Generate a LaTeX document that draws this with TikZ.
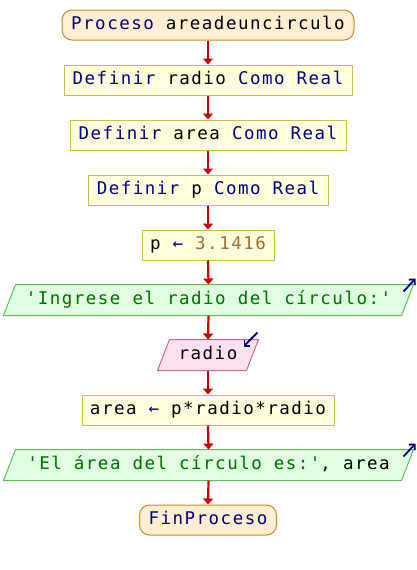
\documentclass[tikz,border=0pt]{standalone}
\usepackage{fontspec}
\usetikzlibrary{arrows.meta}
\newfontfamily\psfont[LetterSpace=8.5]{DejaVu Sans Mono}

\definecolor{startfill}{HTML}{FFEFD2}
\definecolor{startline}{HTML}{C88A30}
\definecolor{procfill}{HTML}{FFFFDD}
\definecolor{procline}{HTML}{C8C04A}
\definecolor{outfill}{HTML}{E0FFE0}
\definecolor{outline}{HTML}{5CBF5C}
\definecolor{infill}{HTML}{FFE0EE}
\definecolor{inline}{HTML}{CC6690}
\definecolor{kw}{HTML}{000080}
\definecolor{strc}{HTML}{007000}
\definecolor{numc}{HTML}{A06E40}
\definecolor{flowred}{HTML}{CC0000}

\newcommand{\kwd}[1]{\textcolor{kw}{#1}}
\newcommand{\strg}[1]{\textcolor{strc}{#1}}
\newcommand{\numb}[1]{\textcolor{numc}{#1}}

\pgfdeclarelayer{background}
\pgfsetlayers{background,main}

\tikzset{
  base/.style={font=\psfont\fontsize{17.5}{20}\selectfont, inner sep=0pt,
    minimum height=30pt, text height=13pt, text depth=4pt, line width=1pt},
  startstop/.style={base, draw=startline, fill=startfill, rounded corners=10pt},
  procbox/.style={base, draw=procline, fill=procfill},
  iotext/.style={base},
  flow/.style={draw=flowred, line width=2.2pt,
    -{Triangle[width=10pt,length=6pt]}},
  ioarrow/.style={draw=kw, line width=1.8pt,
    -{Straight Barb[length=4pt,width=8pt]}},
}

% parallelogram drawn behind a text node: #1 node, #2 fill, #3 border
\newcommand{\ioshape}[3]{%
  \begin{pgfonlayer}{background}
    \draw[line width=1pt, draw=#3, fill=#2]
      ([xshift=6pt]#1.north west) -- ([xshift=6pt]#1.north east)
      -- ([xshift=-6pt]#1.south east) -- ([xshift=-6pt]#1.south west) -- cycle;
  \end{pgfonlayer}}

\begin{document}
\begin{tikzpicture}[x=1pt, y=-1pt]
  \useasboundingbox (0,0) rectangle (416,570);

  \node[startstop, minimum width=292pt] (s) at (208,25)
    {\kwd{Proceso} areadeuncirculo};
  \node[procbox, minimum width=288pt] (d1) at (208,80)
    {\kwd{Definir} radio \kwd{Como Real}};
  \node[procbox, minimum width=276pt] (d2) at (208,135)
    {\kwd{Definir} area \kwd{Como Real}};
  \node[procbox, minimum width=240pt] (d3) at (208,190)
    {\kwd{Definir} p \kwd{Como Real}};
  \node[procbox, minimum width=132pt] (a1) at (208,245)
    {p \kwd{←} \numb{3.1416}};
  \node[iotext, minimum width=397pt] (o1) at (208.5,300)
    {\strg{'Ingrese el radio del círculo:'}};
  \node[iotext, minimum width=88pt] (i1) at (208,355) {radio};
  \node[procbox, minimum width=252pt] (a2) at (208,410)
    {area \kwd{←} p*radio*radio};
  \node[iotext, minimum width=397pt] (o2) at (208.5,465)
    {\strg{'El área del círculo es:'}, area};
  \node[startstop, minimum width=137pt] (e) at (208,520)
    {\kwd{FinProceso}};

  \ioshape{o1}{outfill}{outline}
  \ioshape{i1}{infill}{inline}
  \ioshape{o2}{outfill}{outline}

  % output / input markers
  \draw[ioarrow] ([shift={(-4,7)}]o1.north east) -- ++(12,-13);
  \draw[ioarrow] ([shift={(-4,7)}]o2.north east) -- ++(12,-13);
  \draw[ioarrow] ([shift={(5,-7)}]i1.north east) -- ++(-14,14);

  % flow
  \foreach \a/\b in {s/d1, d1/d2, d2/d3, d3/a1, a1/o1, o1/i1, i1/a2, a2/o2, o2/e}
    \draw[flow] (\a.south) -- (\b.north);
\end{tikzpicture}
\end{document}
